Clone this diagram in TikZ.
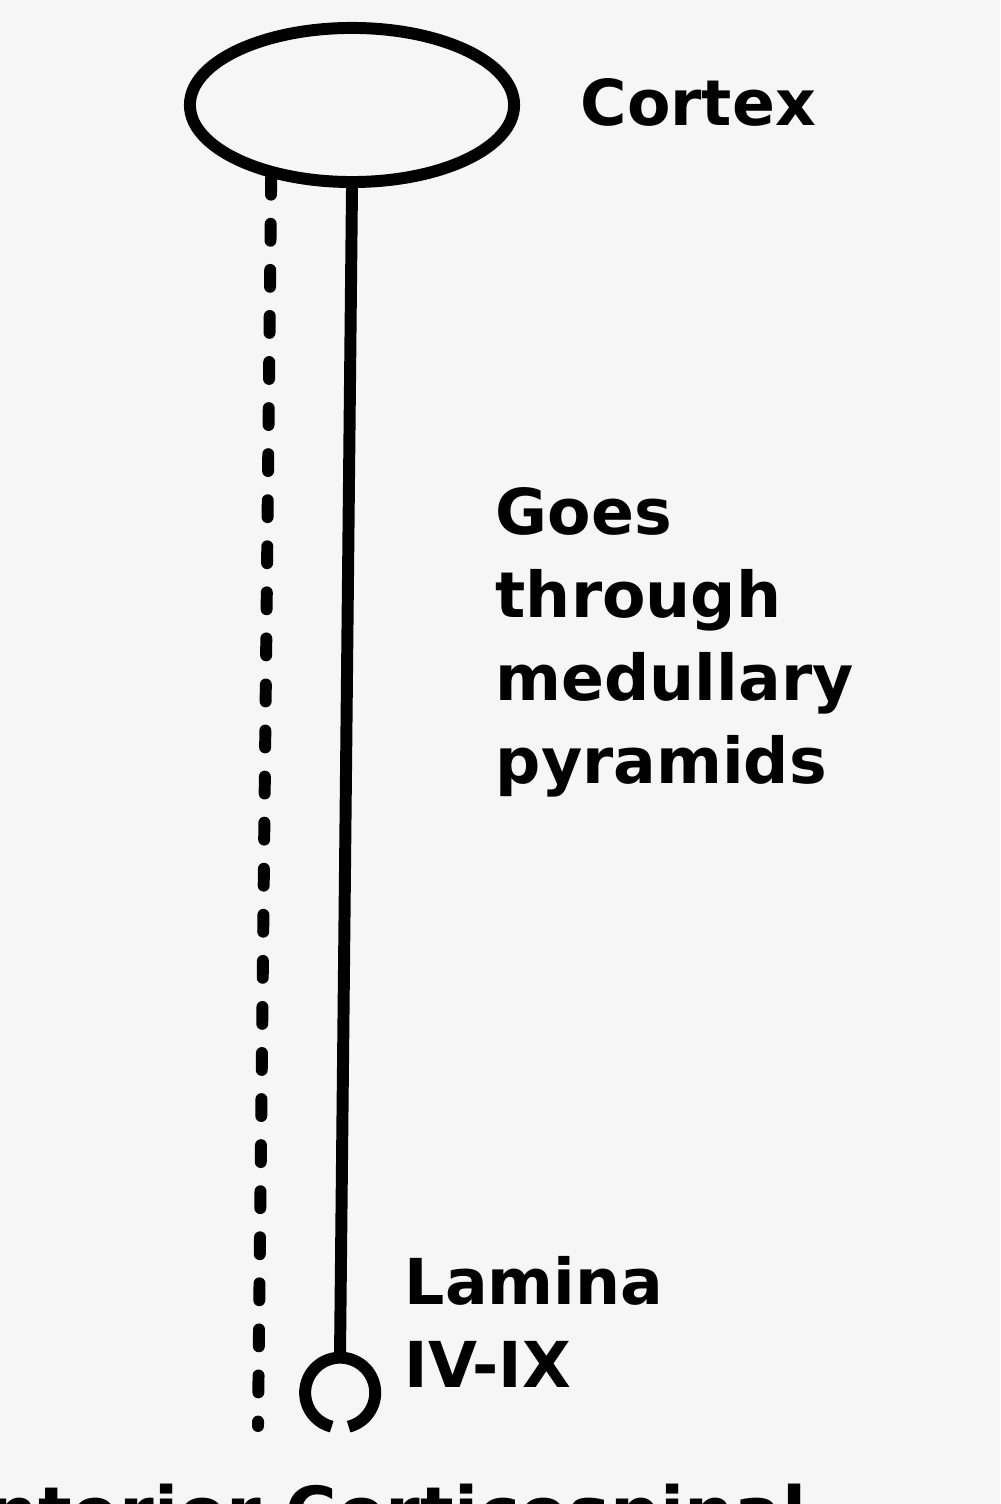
\documentclass[tikz,border=0pt]{standalone}
\usepackage{fontspec}
\setmainfont{DejaVu Sans}
\usetikzlibrary{shapes.geometric}
\definecolor{paper}{RGB}{246,246,246}

\begin{document}
\begin{tikzpicture}[x=0.01cm, y=-0.01cm,
        tract/.style={line width=3.4pt},
        note/.style={inner sep=0, anchor=base west, align=left,
            font=\bfseries\fontsize{18}{23.6}\selectfont}]
    \fill[paper] (0, 0) rectangle (1000, 1504);
    \useasboundingbox (0, 0) rectangle (1000, 1504);
    \begin{scope}
        \clip (0, 0) rectangle (1000, 1504);
        \node[ellipse, draw, tract, minimum width=3.24cm, minimum height=1.54cm, inner sep=0] (cortex) at (352, 105) {};
        \node[circle, minimum size=0.7cm, inner sep=0] (ring) at (340, 1392) {};
        \draw[tract] (ring.-76) arc[start angle=-76, end angle=256, radius=0.35cm];
        \draw[tract] (cortex.south) -- (ring.north);
        \coordinate (dashend) at (258, 1426);
        \draw[tract, line cap=round, dash pattern=on 4.8pt off 8.3pt] (cortex.222) -- (dashend);
        \node[note] (cortexlabel) at (580, 126) {Cortex};
        \node[note] (pyramids) at (495, 783) {Goes\\through\\medullary\\pyramids};
        \node[note] (lamina) at (404, 1387) {Lamina\\IV-IX};
        \node[note, font=\bfseries\fontsize{20}{24}\selectfont] (tractname) at (-67, 1537) {Anterior Corticospinal};
    \end{scope}
\end{tikzpicture}
\end{document}
